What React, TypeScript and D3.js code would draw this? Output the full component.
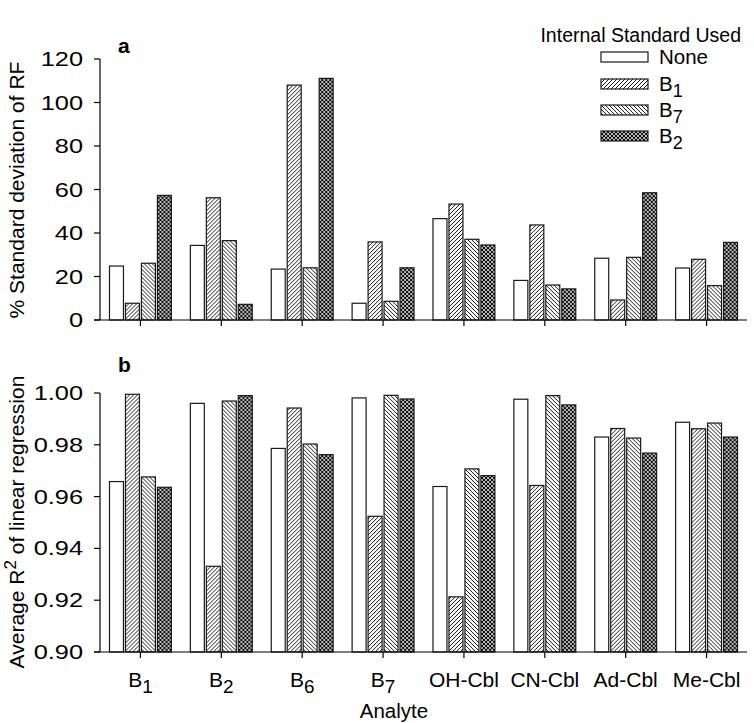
import React from "react";
import * as d3 from "d3";

// Analytes on the x axis
const analytes = ["B1", "B2", "B6", "B7", "OH-Cbl", "CN-Cbl", "Ad-Cbl", "Me-Cbl"];
// Internal standards (series)
const standards = ["None", "B1", "B7", "B2"];

// Panel a: % standard deviation of RF, one array per internal standard
const rsdNone = [24.8, 34.3, 23.4, 7.7, 46.6, 18.2, 28.4, 23.9];
const rsdB1 = [7.7, 56.2, 108.0, 35.9, 53.3, 43.7, 9.2, 27.9];
const rsdB7 = [26.1, 36.5, 24.0, 8.6, 37.1, 16.1, 28.8, 15.8];
const rsdB2 = [57.3, 7.2, 111.1, 24.0, 34.5, 14.3, 58.5, 35.7];

// Panel b: average R^2 of linear regression
const r2None = [0.9658, 0.996, 0.9786, 0.9981, 0.9639, 0.9976, 0.983, 0.9887];
const r2B1 = [0.9995, 0.9331, 0.9942, 0.9524, 0.9213, 0.9643, 0.9863, 0.9862];
const r2B7 = [0.9676, 0.9969, 0.9803, 0.9991, 0.9707, 0.999, 0.9826, 0.9884];
const r2B2 = [0.9636, 0.999, 0.9762, 0.9977, 0.9681, 0.9954, 0.9768, 0.983];

const rsdTicks = [0, 20, 40, 60, 80, 100, 120];
const r2Ticks = [0.9, 0.92, 0.94, 0.96, 0.98, 1.0];

const FONT = "'Liberation Sans', Arial, Helvetica, sans-serif";
const fills = ["#ffffff", "url(#hatchFwd)", "url(#hatchBack)", "url(#hatchCross)"];

const rsdSeries = [rsdNone, rsdB1, rsdB7, rsdB2];
const r2Series = [r2None, r2B1, r2B7, r2B2];

const x0 = 100;
const x1 = 747;

const xOuter = d3.scaleBand<string>().domain(analytes).range([x0, x1]).paddingInner(0.21).paddingOuter(0.105);
const xInner = d3
  .scaleBand<string>()
  .domain(standards)
  .range([0, xOuter.bandwidth()])
  .paddingInner(0.125)
  .paddingOuter(0.0625);

const yA = d3.scaleLinear().domain([0, 120]).range([320, 59]);
const yB = d3.scaleLinear().domain([0.9, 1.0]).range([652, 393]);

const TICK_FS = 19.5;
const TICK_WIDEN = 1.3;
const LABEL_FS = 20.5;
const CAT_FS = 21;

function Label({ name, x, y, size }: { name: string; x: number; y: number; size: number }) {
  // "B1" style names get a subscript digit
  const m = /^B(\d)$/.exec(name);
  if (m) {
    return (
      <text x={x} y={y} fontSize={size} fontFamily={FONT} textAnchor="middle">
        B
        <tspan dy={size * 0.3} fontSize={size * 0.9}>
          {m[1]}
        </tspan>
      </text>
    );
  }
  return (
    <text x={x} y={y} fontSize={size} fontFamily={FONT} textAnchor="middle">
      {name}
    </text>
  );
}

function Bars({ series, y, base }: { series: number[][]; y: d3.ScaleLinear<number, number>; base: number }) {
  return (
    <g>
      {analytes.map((a, i) => (
        <g key={a} transform={`translate(${xOuter(a)},0)`}>
          {standards.map((s, j) => {
            const v = series[j][i];
            const top = y(v);
            return (
              <rect
                key={s}
                x={xInner(s)}
                y={top}
                width={xInner.bandwidth()}
                height={y(base) - top}
                fill={fills[j]}
                stroke="#1a1a1a"
                strokeWidth={1.2}
              />
            );
          })}
        </g>
      ))}
    </g>
  );
}

function YAxis({ y, ticks, fmt }: { y: d3.ScaleLinear<number, number>; ticks: number[]; fmt: (v: number) => string }) {
  const [r0, r1] = y.range();
  return (
    <g>
      <line x1={x0} x2={x0} y1={r0} y2={r1} stroke="#000" strokeWidth={1.2} />
      {ticks.map((t) => (
        <g key={t}>
          <line x1={x0 - 6} x2={x0} y1={y(t)} y2={y(t)} stroke="#000" strokeWidth={1.2} />
          <text
            transform={`translate(83,${y(t)}) scale(${TICK_WIDEN},1)`}
            dy="0.36em"
            fontSize={TICK_FS}
            fontFamily={FONT}
            textAnchor="end"
          >
            {fmt(t)}
          </text>
        </g>
      ))}
    </g>
  );
}

function XAxis({ yPos }: { yPos: number }) {
  return (
    <g>
      <line x1={x0 - 6} x2={x1} y1={yPos} y2={yPos} stroke="#000" strokeWidth={1.2} />
      {analytes.map((a) => {
        const cx = (xOuter(a) as number) + xOuter.bandwidth() / 2;
        return <line key={a} x1={cx} x2={cx} y1={yPos} y2={yPos + 6} stroke="#000" strokeWidth={1.2} />;
      })}
    </g>
  );
}

export default function App() {
  const legendRows = [57, 84, 110, 136];
  return (
    <svg width={754} height={723} style={{ display: "block", position: "absolute", left: 0, top: 0, background: "#fff" }}>
      <defs>
        <pattern id="hatchFwd" patternUnits="userSpaceOnUse" width={4} height={4}>
          <rect width={4} height={4} fill="#fff" />
          <path d="M-1,1 l2,-2 M0,4 l4,-4 M3,5 l2,-2" stroke="#000" strokeWidth={0.9} />
        </pattern>
        <pattern id="hatchBack" patternUnits="userSpaceOnUse" width={4} height={4}>
          <rect width={4} height={4} fill="#fff" />
          <path d="M-1,3 l2,2 M0,0 l4,4 M3,-1 l2,2" stroke="#000" strokeWidth={0.9} />
        </pattern>
        <pattern id="hatchCross" patternUnits="userSpaceOnUse" width={4} height={4}>
          <rect width={4} height={4} fill="#fff" />
          <path d="M-1,1 l2,-2 M0,4 l4,-4 M3,5 l2,-2 M-1,3 l2,2 M0,0 l4,4 M3,-1 l2,2" stroke="#000" strokeWidth={1.1} />
        </pattern>
      </defs>

      {/* Panel a */}
      <text x={118} y={53} fontSize={21} fontWeight="bold" fontFamily={FONT}>
        a
      </text>
      <Bars series={rsdSeries} y={yA} base={0} />
      <YAxis y={yA} ticks={rsdTicks} fmt={(v) => String(v)} />
      <XAxis yPos={yA(0)} />
      <text transform="translate(24,190) rotate(-90)" fontSize={21} fontFamily={FONT} textAnchor="middle">
        % Standard deviation of RF
      </text>

      {/* Legend */}
      <text x={741} y={42} fontSize={19.5} fontFamily={FONT} textAnchor="end">
        Internal Standard Used
      </text>
      {standards.map((s, j) => (
        <g key={s}>
          <rect x={601} y={legendRows[j] - 5} width={47} height={10} fill={fills[j]} stroke="#1a1a1a" strokeWidth={1.2} />
          {s === "None" ? (
            <text x={659} y={legendRows[j]} dy="0.36em" fontSize={LABEL_FS} fontFamily={FONT}>
              None
            </text>
          ) : (
            <text x={659} y={legendRows[j]} dy="0.36em" fontSize={LABEL_FS} fontFamily={FONT}>
              B
              <tspan dy={6} fontSize={18}>
                {s.slice(1)}
              </tspan>
            </text>
          )}
        </g>
      ))}

      {/* Panel b */}
      <text x={118} y={372} fontSize={21} fontWeight="bold" fontFamily={FONT}>
        b
      </text>
      <Bars series={r2Series} y={yB} base={0.9} />
      <YAxis y={yB} ticks={r2Ticks} fmt={(v) => v.toFixed(2)} />
      <XAxis yPos={yB(0.9)} />
      <text transform="translate(24,522) rotate(-90)" fontSize={21} fontFamily={FONT} textAnchor="middle">
        Average R
        <tspan dy={-8} fontSize={17}>
          2
        </tspan>
        <tspan dy={8}> of linear regression</tspan>
      </text>

      {/* Category labels and x title */}
      {analytes.map((a) => (
        <Label key={a} name={a} x={(xOuter(a) as number) + xOuter.bandwidth() / 2} y={687} size={CAT_FS} />
      ))}
      <text x={394} y={718} fontSize={LABEL_FS} fontFamily={FONT} textAnchor="middle">
        Analyte
      </text>
    </svg>
  );
}
